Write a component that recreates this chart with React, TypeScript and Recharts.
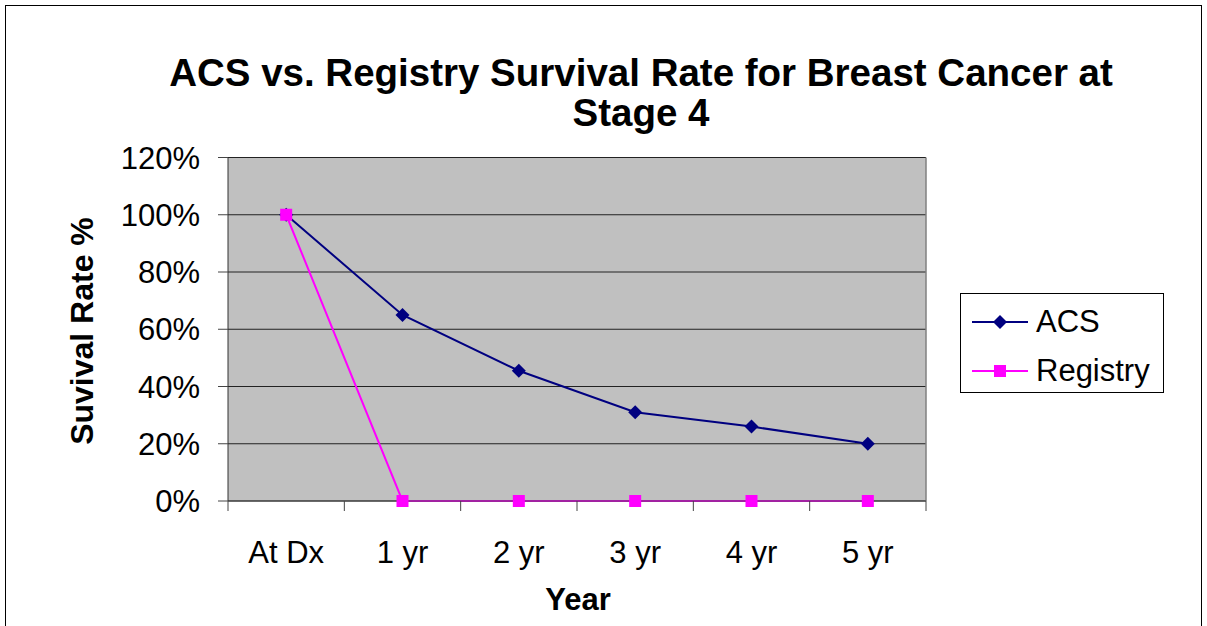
import React from 'react';
import {LineChart, Line, XAxis, YAxis, CartesianGrid, ReferenceLine} from 'recharts';

const categories = ['At Dx', '1 yr', '2 yr', '3 yr', '4 yr', '5 yr'];
const acsValues = [1.0, 0.65, 0.455, 0.31, 0.26, 0.2];
const registryValues = [1.0, 0, 0, 0, 0, 0];
const yTicks = [0, 0.2, 0.4, 0.6, 0.8, 1.0, 1.2];
const xTicks = [0, 1, 2, 3, 4, 5, 6];

const data = categories.map((name, i) => ({
    name,
    pos: i + 0.5,
    acs: acsValues[i],
    registry: registryValues[i],
}));

const FONT = '"Liberation Sans", Arial, sans-serif';
const W = 1207;
const H = 626;
const LEFT = 228;
const RIGHT = 281;
const HALF_BAND = (W - LEFT - RIGHT) / categories.length / 2;

const Diamond = (props: any) => {
    const {cx, cy, index} = props;
    if (cx == null || cy == null) return <g key={'d' + index}/>;
    const r = 7;
    return (
        <path key={'d' + index} d={`M${cx},${cy - r}L${cx + r},${cy}L${cx},${cy + r}L${cx - r},${cy}Z`} fill="#000080"/>
    );
};

const Square = (props: any) => {
    const {cx, cy, index} = props;
    if (cx == null || cy == null) return <g key={'s' + index}/>;
    const r = 6;
    return <rect key={'s' + index} x={cx - r} y={cy - r} width={r * 2} height={r * 2} fill="#FF00FF"/>;
};

const XTick = (props: any) => {
    const {x, y, payload} = props;
    const label = categories[payload.value];
    if (!label) return <g/>;
    return (
        <text x={x + HALF_BAND} y={y + 50} textAnchor="middle" fontSize={31} fontFamily={FONT} fill="#000">
            {label}
        </text>
    );
};

const App: React.FC = () => {
    return (
        <div style={{position: 'absolute', left: 0, top: 0, width: W, height: H, overflow: 'hidden', background: '#fff', fontFamily: FONT}}>
            <div style={{position: 'absolute', left: 5, top: 5, width: 1195, height: 700, border: '1.5px solid #000'}}/>
            <div style={{position: 'absolute', left: 0, width: W - 75, top: 53, textAlign: 'center', fontSize: 38.5, fontWeight: 'bold', lineHeight: '40px', paddingLeft: 150, boxSizing: 'border-box'}}>
                ACS vs. Registry Survival Rate for Breast Cancer at<br/>Stage 4
            </div>
            <div style={{position: 'absolute', left: 82, top: 331, transform: 'translate(-50%, -50%) rotate(-90deg)', fontSize: 32, fontWeight: 'bold', whiteSpace: 'nowrap'}}>
                Suvival Rate %
            </div>
            <div style={{position: 'absolute', left: 578, top: 600, transform: 'translate(-50%, -50%)', fontSize: 31, fontWeight: 'bold'}}>
                Year
            </div>
            <div style={{position: 'absolute', left: 960, top: 293, width: 204, height: 100, border: '1px solid #000', boxSizing: 'border-box', fontSize: 31}}>
                {[{label: 'ACS', color: '#000080', shape: 'diamond'}, {label: 'Registry', color: '#FF00FF', shape: 'square'}].map((item, i) => (
                    <div key={item.label} style={{position: 'absolute', left: 11, top: i === 0 ? 12 : 61, height: 32, display: 'flex', alignItems: 'center'}}>
                        <svg width={56} height={20}>
                            <line x1={0} y1={10} x2={56} y2={10} stroke={item.color} strokeWidth={2}/>
                            {item.shape === 'diamond'
                                ? <path d="M28,3L35,10L28,17L21,10Z" fill={item.color}/>
                                : <rect x={22} y={4} width={12} height={12} fill={item.color}/>}
                        </svg>
                        <span style={{marginLeft: 8, lineHeight: '32px'}}>{item.label}</span>
                    </div>
                ))}
            </div>
            <div style={{position: 'absolute', left: 0, top: 0}}>
                <LineChart width={W} height={H} data={data} margin={{top: 157.5, right: RIGHT, left: 0, bottom: 65}}>
                    <CartesianGrid vertical={false} stroke="#222" fill="#C0C0C0"/>
                    <XAxis
                        dataKey="pos"
                        type="number"
                        domain={[0, 6]}
                        ticks={xTicks}
                        interval={0}
                        height={60}
                        tickSize={10}
                        tick={<XTick/>}
                        axisLine={{stroke: '#444'}}
                        tickLine={{stroke: '#444'}}
                    />
                    <YAxis
                        width={LEFT}
                        domain={[0, 1.2]}
                        ticks={yTicks}
                        interval={0}
                        tickSize={10}
                        tickMargin={18}
                        tickFormatter={(v: number) => `${Math.round(v * 100)}%`}
                        tick={{fontSize: 31, fill: '#000', fontFamily: FONT}}
                        axisLine={{stroke: '#333'}}
                        tickLine={{stroke: '#444'}}
                    />
                    <ReferenceLine x={6} stroke="#808080" strokeWidth={1.5}/>
                    <Line dataKey="acs" stroke="#000080" strokeWidth={2} dot={Diamond} isAnimationActive={false}/>
                    <Line dataKey="registry" stroke="#FF00FF" strokeWidth={2} dot={Square} isAnimationActive={false}/>
                </LineChart>
            </div>
        </div>
    );
};

export default App;
